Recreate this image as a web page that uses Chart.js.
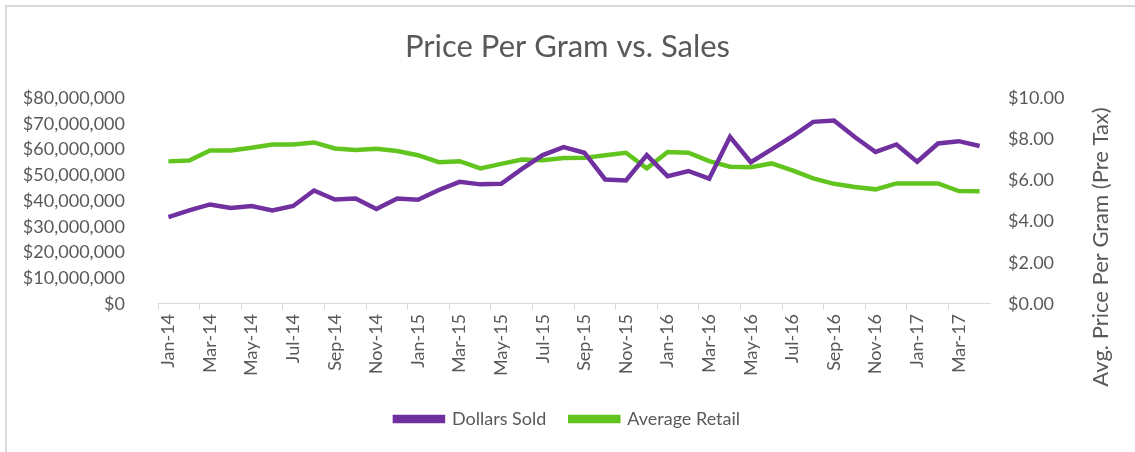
<!DOCTYPE html>
<html>
<head>
<meta charset="utf-8">
<script src="https://cdn.jsdelivr.net/npm/chart.js@4"></script>
<style>
  html, body { margin: 0; padding: 0; background: #fff; }
  #wrap { position: relative; width: 1135px; height: 452px; }
  #frame { position: absolute; left: 5px; top: 5px; right: 0; bottom: 0;
           border-top: 2px solid #d9d9d9; border-left: 2px solid #d9d9d9; }
  canvas { position: absolute; left: 0; top: 0; }
</style>
</head>
<body>
<div id="wrap">
  <div id="frame"></div>
  <canvas id="salesChart" width="1135" height="452"></canvas>
</div>
<script>
// months Jan-14 .. Apr-17
const months = [
  "Jan-14","Feb-14","Mar-14","Apr-14","May-14","Jun-14","Jul-14","Aug-14","Sep-14","Oct-14","Nov-14","Dec-14",
  "Jan-15","Feb-15","Mar-15","Apr-15","May-15","Jun-15","Jul-15","Aug-15","Sep-15","Oct-15","Nov-15","Dec-15",
  "Jan-16","Feb-16","Mar-16","Apr-16","May-16","Jun-16","Jul-16","Aug-16","Sep-16","Oct-16","Nov-16","Dec-16",
  "Jan-17","Feb-17","Mar-17","Apr-17"
];

// Dollars Sold (left axis)
const dollarsSold = [
  33.8, 36.4, 38.7, 37.3, 38.1, 36.4, 38.1, 44.1, 40.6, 41.0, 36.9, 41.0,
  40.5, 44.3, 47.5, 46.5, 46.7, 52.5, 57.9, 61.0, 58.8, 48.4, 48.0, 57.9,
  49.7, 51.7, 48.7, 65.0, 55.1, 60.1, 65.2, 70.8, 71.3, 64.9, 59.1, 62.0,
  55.3, 62.4, 63.3, 61.4
].map(v => v * 1000000);

// Average Retail price per gram (right axis)
const avgRetail = [
  6.93, 6.97, 7.46, 7.46, 7.59, 7.75, 7.75, 7.85, 7.56, 7.48, 7.54, 7.43,
  7.23, 6.89, 6.94, 6.59, 6.81, 7.02, 6.99, 7.09, 7.10, 7.23, 7.35, 6.59,
  7.39, 7.35, 6.94, 6.67, 6.65, 6.83, 6.49, 6.10, 5.84, 5.68, 5.57, 5.86,
  5.86, 5.86, 5.49, 5.48
];

const textColor = "#595959";
const fontFamily = "Lato, 'Open Sans', sans-serif";

// right axis title reads bottom-to-top like Excel
const rightTitle = {
  id: "rightTitle",
  afterDraw(chart) {
    const c = chart.ctx;
    c.save();
    c.translate(1101, 247);
    c.rotate(-Math.PI / 2);
    c.fillStyle = textColor;
    c.font = "22px " + fontFamily;
    c.textAlign = "center";
    c.textBaseline = "middle";
    c.fillText("Avg. Price Per Gram (Pre Tax)", 0, 0);
    c.restore();
  }
};

Chart.defaults.font.family = fontFamily;
Chart.defaults.color = textColor;

new Chart(document.getElementById("salesChart"), {
  type: "line",
  data: {
    labels: months,
    datasets: [
      {
        label: "Dollars Sold",
        data: dollarsSold,
        borderColor: "#7030a0",
        backgroundColor: "#7030a0",
        borderWidth: 4.5,
        pointRadius: 0,
        tension: 0,
        yAxisID: "y"
      },
      {
        label: "Average Retail",
        data: avgRetail,
        borderColor: "#62c41e",
        backgroundColor: "#62c41e",
        borderWidth: 4.5,
        pointRadius: 0,
        tension: 0,
        yAxisID: "y1"
      }
    ]
  },
  options: {
    responsive: false,
    animation: false,
    layout: { padding: { left: 0, right: 0, top: 0, bottom: 14 } },
    plugins: {
      title: {
        display: true,
        text: "Price Per Gram vs. Sales",
        font: { size: 31, weight: "normal" },
        color: textColor,
        padding: { top: 28, bottom: 33 }
      },
      legend: {
        position: "bottom",
        labels: {
          font: { size: 18 },
          boxWidth: 48,
          boxHeight: 4,
          padding: 24
        }
      },
      tooltip: { enabled: false }
    },
    scales: {
      x: {
        offset: true,
        grid: {
          offset: true,
          drawOnChartArea: false,
          drawTicks: true,
          tickLength: 6,
          color: (ctx) => (ctx.index % 2 === 0 ? "#d9d9d9" : "rgba(0,0,0,0)")
        },
        border: { color: "#d9d9d9", width: 1 },
        ticks: {
          autoSkip: false,
          minRotation: 90,
          maxRotation: 90,
          padding: 4,
          font: { size: 18 },
          callback: function (v, i) { return i % 2 === 0 ? this.getLabelForValue(v) : ""; }
        },
        afterFit: (s) => { s.height = s.height + 6; }
      },
      y: {
        position: "left",
        min: 0,
        max: 80000000,
        grid: { display: false },
        border: { display: false },
        ticks: {
          stepSize: 10000000,
          padding: 25,
          font: { size: 18 },
          callback: (v) => "$" + v.toLocaleString("en-US")
        },
        afterFit: (s) => { s.width = 158; }
      },
      y1: {
        position: "right",
        min: 0,
        max: 10,
        grid: { display: false },
        border: { display: false },
        ticks: {
          stepSize: 2,
          padding: 10,
          font: { size: 18 },
          callback: (v) => "$" + v.toFixed(2)
        },
        afterFit: (s) => { s.width = 145; }
      }
    }
  },
  plugins: [rightTitle]
});
</script>
</body>
</html>
